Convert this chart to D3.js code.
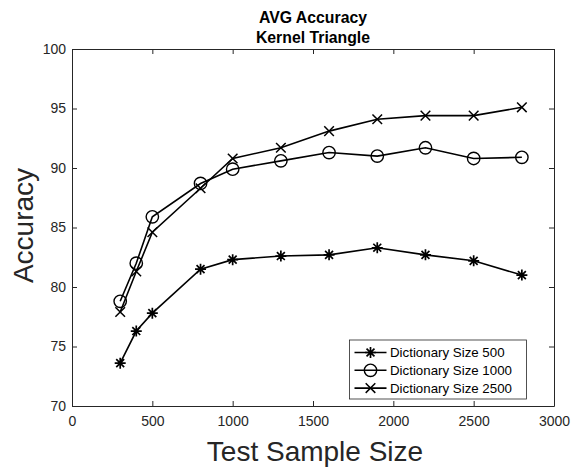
<!DOCTYPE html>
<html><head><meta charset="utf-8">
<script src="https://cdn.jsdelivr.net/npm/d3@7"></script>
<style>body{margin:0;background:#fff;}svg{display:block;font-family:"Liberation Sans",Arial,sans-serif;}</style>
</head><body>
<script>
const xValues = [300,400,500,800,1000,1300,1600,1900,2200,2500,2800];
const dict500 = [73.6,76.3,77.8,81.5,82.3,82.6,82.7,83.3,82.7,82.2,81.0];
const dict1000 = [78.8,82.0,85.9,88.7,89.9,90.6,91.3,91.0,91.7,90.8,90.9];
const dict2500 = [77.9,81.3,84.6,88.3,90.8,91.7,93.1,94.1,94.4,94.4,95.1];
const seriesNames = ["Dictionary Size 500","Dictionary Size 1000","Dictionary Size 2500"];
const xTicks = [0,500,1000,1500,2000,2500,3000];
const yTicks = [70,75,80,85,90,95,100];
const titleLines = ["AVG Accuracy","Kernel Triangle"];

(function(){
const W=571,H=470;
const m={l:72,r:17,t:49,b:64};
const svg=d3.select("body").append("svg").attr("width",W).attr("height",H);
const x=d3.scaleLinear().domain([0,3000]).range([m.l,W-m.r]);
const y=d3.scaleLinear().domain([70,100]).range([H-m.b,m.t]);
const ac="#262626";
const fmt=d3.format("d");

const g=svg.append("g");
g.append("g").attr("transform",`translate(0,${y(70)})`).call(d3.axisBottom(x).tickValues(xTicks).tickFormat(fmt).tickSizeInner(-5).tickSizeOuter(0).tickPadding(10));
g.append("g").attr("transform",`translate(0,${y(100)})`).call(d3.axisTop(x).tickValues(xTicks).tickSizeInner(-5).tickSizeOuter(0).tickFormat(""));
g.append("g").attr("transform",`translate(${x(0)},0)`).call(d3.axisLeft(y).tickValues(yTicks).tickFormat(fmt).tickSizeInner(-5).tickSizeOuter(0).tickPadding(6));
g.append("g").attr("transform",`translate(${x(3000)},0)`).call(d3.axisRight(y).tickValues(yTicks).tickSizeInner(-5).tickSizeOuter(0).tickFormat(""));
g.selectAll(".domain").attr("stroke",ac).attr("stroke-width",1);
g.selectAll(".tick line").attr("stroke",ac);
g.selectAll(".tick text").attr("fill",ac).attr("font-size",14).attr("font-family","Liberation Sans, Arial, sans-serif");

const cx=(x(0)+x(3000))/2;
svg.append("text").attr("x",cx).attr("y",22.5).attr("text-anchor","middle").attr("font-weight","bold").attr("font-size",15.8).attr("fill","#000").text(titleLines[0]);
svg.append("text").attr("x",cx).attr("y",42.5).attr("text-anchor","middle").attr("font-weight","bold").attr("font-size",15.8).attr("fill","#000").text(titleLines[1]);
svg.append("text").attr("x",315).attr("y",461).attr("text-anchor","middle").attr("font-size",28).attr("fill",ac).text("Test Sample Size");
svg.append("text").attr("transform",`translate(33,${(y(70)+y(100))/2-2}) rotate(-90)`).attr("text-anchor","middle").attr("font-size",28).attr("fill",ac).text("Accuracy");

function marker(sel,type){
  if(type==="star"){
    const r=5.5;
    sel.append("path").attr("d",`M${-r},0H${r}M0,${-r}V${r}M${-r*0.72},${-r*0.72}L${r*0.72},${r*0.72}M${-r*0.72},${r*0.72}L${r*0.72},${-r*0.72}`).attr("stroke","#000").attr("stroke-width",1.7);
  } else if(type==="circle"){
    sel.append("circle").attr("r",6.2).attr("fill","none").attr("stroke","#000").attr("stroke-width",1.4);
  } else {
    const r=4.8;
    sel.append("path").attr("d",`M${-r},${-r}L${r},${r}M${-r},${r}L${r},${-r}`).attr("stroke","#000").attr("stroke-width",1.5);
  }
}
const types=["star","circle","cross"];
const data=[dict500,dict1000,dict2500];
const line=d3.line().x((d,i)=>x(xValues[i])).y(d=>y(d));
data.forEach((vals,k)=>{
  svg.append("path").datum(vals).attr("d",line).attr("fill","none").attr("stroke","#000").attr("stroke-width",1.6);
  vals.forEach((v,i)=>{
    const mg=svg.append("g").attr("transform",`translate(${x(xValues[i])},${y(v)})`);
    marker(mg,types[k]);
  });
});

const lg=svg.append("g").attr("transform","translate(349.5,340)");
lg.append("rect").attr("width",177).attr("height",59).attr("fill","#fff").attr("stroke",ac).attr("stroke-width",0.8);
seriesNames.forEach((n,i)=>{
  const yy=12.5+i*17.8;
  lg.append("line").attr("x1",5).attr("x2",37).attr("y1",yy).attr("y2",yy).attr("stroke","#000").attr("stroke-width",1.6);
  const mg=lg.append("g").attr("transform",`translate(21,${yy})`);
  marker(mg,types[i]);
  lg.append("text").attr("x",40.5).attr("y",yy+4.8).attr("font-size",13.3).attr("fill","#000").text(n);
});
})();
</script>
</body></html>
